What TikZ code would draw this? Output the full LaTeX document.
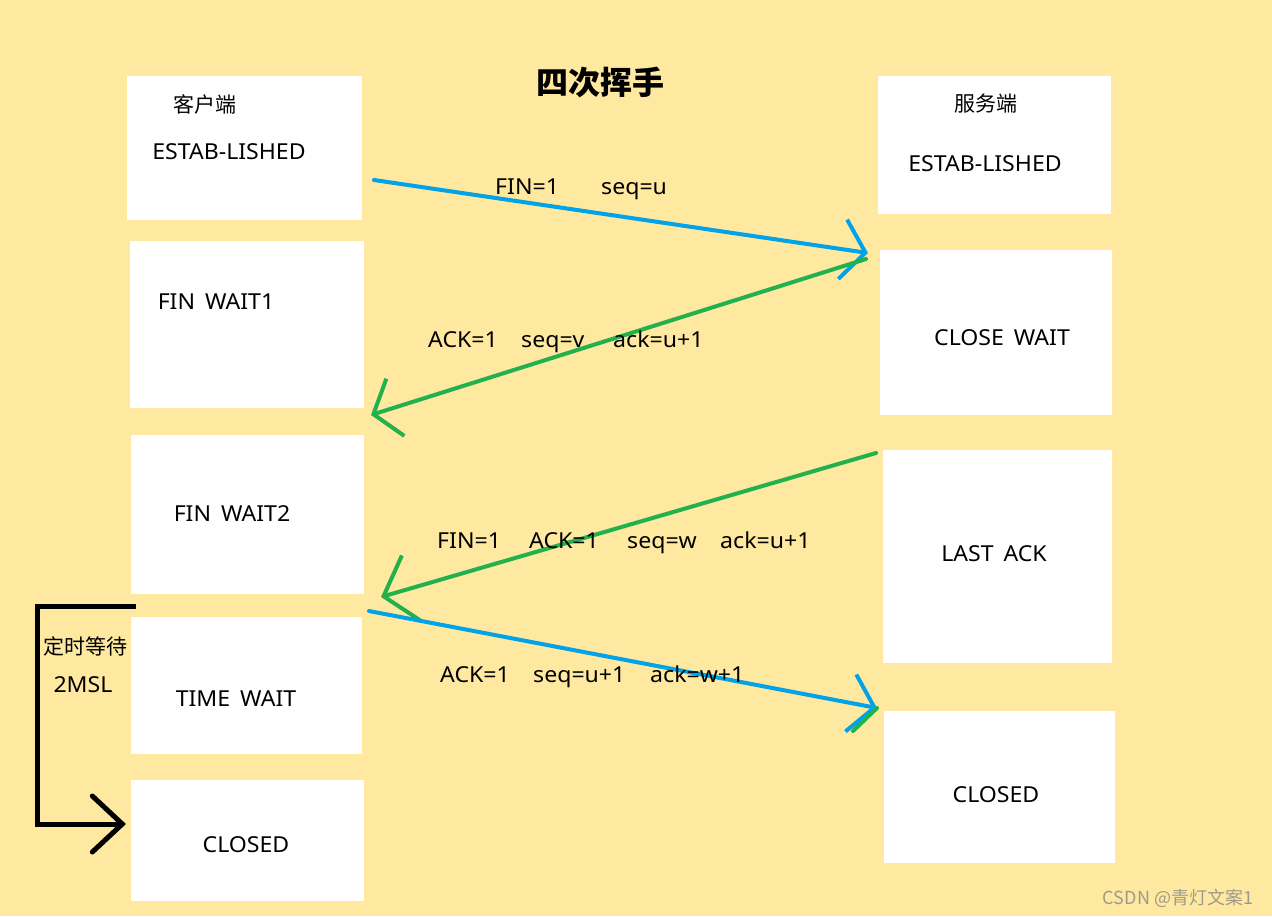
\documentclass[tikz,border=0pt]{standalone}
\usepackage{fontspec}
\setmainfont{Noto Sans}[FakeStretch=1.05]
\newfontfamily\cjk{Noto Sans CJK SC}
\usetikzlibrary{arrows.meta}
\definecolor{bg}{HTML}{FFE9A0}
\definecolor{pblue}{HTML}{00A2E8}
\definecolor{pgreen}{HTML}{22B14C}
\definecolor{wm}{HTML}{9C9A8C}
\begin{document}
\begin{tikzpicture}[x=1pt,y=-1pt,
 box/.style={fill=white,draw=none,anchor=north west,inner sep=0pt,outer sep=0pt},
 txt/.style={font=\fontsize{22}{26}\selectfont,inner sep=0pt,anchor=center},
 zh/.style={font=\cjk\fontsize{21}{25}\selectfont,inner sep=0pt,anchor=center},
 lbl/.style={font=\fontsize{22}{26}\selectfont,inner sep=0pt,anchor=base west},
 msg/.style={line width=4pt,line cap=round,line join=round},
]
\fill[bg] (0,0) rectangle (1272,916);
\useasboundingbox (0,0) rectangle (1272,916);

% client boxes
\node[box,minimum width=235pt,minimum height=144pt] (c1) at (127,76) {};
\node[box,minimum width=234pt,minimum height=167pt] (c2) at (130,241) {};
\node[box,minimum width=233pt,minimum height=159pt] (c3) at (131,435) {};
\node[box,minimum width=231pt,minimum height=137pt] (c4) at (131,617) {};
\node[box,minimum width=233pt,minimum height=121pt] (c5) at (131,780) {};
% server boxes
\node[box,minimum width=233pt,minimum height=138pt] (s1) at (878,76) {};
\node[box,minimum width=232pt,minimum height=165pt] (s2) at (880,250) {};
\node[box,minimum width=229pt,minimum height=213pt] (s3) at (883,450) {};
\node[box,minimum width=231pt,minimum height=152pt] (s4) at (884,711) {};

% title
\node[font=\cjk\bfseries\fontsize{32}{36}\selectfont,inner sep=0pt] (title) at (600,82) {四次挥手};

% box texts
\node[zh] (t1) at (205,104) {客户端};
\node[txt] (t2) at (229,152) {ESTAB-LISHED};
\node[zh] (t3) at (986,104) {服务端};
\node[txt] (t4) at (985,164) {ESTAB-LISHED};
\node[txt] (t5) at (216,302) {FIN\hspace{0.45em}WAIT1};
\node[txt] (t6) at (1002,338) {CLOSE\hspace{0.45em}WAIT};
\node[txt] (t7) at (232,514) {FIN\hspace{0.45em}WAIT2};
\node[txt] (t8) at (994,554) {LAST\hspace{0.45em}ACK};
\node[txt] (t9) at (236,699) {TIME\hspace{0.45em}WAIT};
\node[txt] (t10) at (246,845) {CLOSED};
\node[txt] (t11) at (996,795) {CLOSED};

% message endpoints
\coordinate (a1s) at (374,180);
\coordinate (a1e) at (868,253);
\coordinate (a2s) at (866,259);
\coordinate (a2e) at (371,415);
\coordinate (a3s) at (876,453);
\coordinate (a3e) at (381,597);
\coordinate (a4s) at (369,611);
\coordinate (a4e) at (877,708);
\coordinate (a4arm) at (853,731);

\draw[msg,pblue,-{Straight Barb[length=23pt,width=60pt]}] (a1s) -- (a1e);
\draw[msg,pgreen,-{Straight Barb[length=23pt,width=60pt]}] (a2s) -- (a2e);
\draw[msg,pgreen,-{Straight Barb[length=29pt,width=68pt]}] (a3s) -- (a3e);
\draw[msg,pblue,-{Straight Barb[length=24pt,width=58pt]}] (a4s) -- (a4e);
\draw[msg,pgreen] (a4e) -- (a4arm);

% message labels
\node[lbl] (m1a) at (495,194) {FIN=1};
\node[lbl] (m1b) at (601,194) {seq=u};
\node[lbl] (m2a) at (428,347) {ACK=1};
\node[lbl] (m2b) at (521,347) {seq=v};
\node[lbl] (m2c) at (613,347) {ack=u+1};
\node[lbl] (m3a) at (437,548) {FIN=1};
\node[lbl] (m3b) at (529,548) {ACK=1};
\node[lbl] (m3c) at (627,548) {seq=w};
\node[lbl] (m3d) at (720,548) {ack=u+1};
\node[lbl] (m4a) at (440,682) {ACK=1};
\node[lbl] (m4b) at (533,682) {seq=u+1};
\node[lbl] (m4c) at (650,682) {ack=w+1};

% timed wait bracket
\coordinate (bs) at (136,606);
\coordinate (bc1) at (37,606);
\coordinate (bc2) at (37,824);
\coordinate (be) at (126,824);
\draw[line width=5pt,line join=miter,-{Straight Barb[length=30pt,width=56pt,line cap=round]}] (bs) -- (bc1) -- (bc2) -- (be);
\node[zh] (w1) at (85,646) {定时等待};
\node[txt] (w2) at (83,685) {2MSL};

% watermark
\node[font=\cjk\fontsize{18}{21}\selectfont,text=wm,inner sep=0pt] (wmk) at (1178,898) {CSDN @青灯文案1};
\end{tikzpicture}
\end{document}
